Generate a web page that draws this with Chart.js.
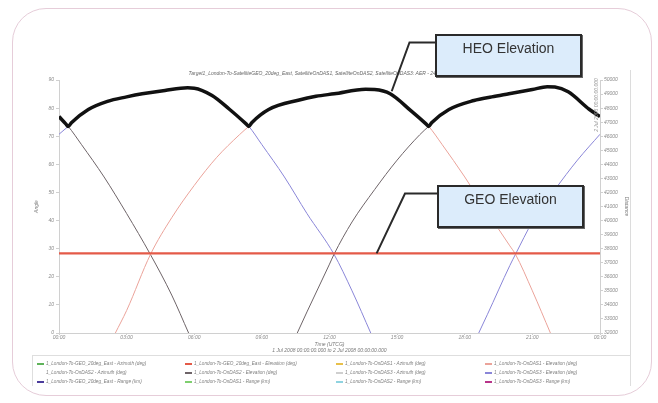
<!DOCTYPE html>
<html>
<head>
<meta charset="utf-8">
<script src="https://cdn.jsdelivr.net/npm/chart.js@4.4.1/dist/chart.umd.min.js"></script>
<style>
  body { margin:0; background:#fff; }
  #wrap { position:relative; width:658px; height:403px; overflow:hidden; font-family:Arial, "Liberation Sans", sans-serif; }
  #frame { position:absolute; left:12px; top:8px; width:638px; height:386px; border:1px solid #e6cdd9; border-radius:34px; }
  #side { position:absolute; left:630px; top:70px; width:1px; height:285px; background:#dcdcdc; }
  canvas { position:absolute; left:0; top:0; }
  #legend { position:absolute; left:32px; top:355px; width:599px; height:31px; box-sizing:border-box;
            border:1px solid #dedede; border-bottom:none; display:grid;
            grid-template-columns:148px 151px 149px auto; grid-auto-rows:9px; padding:3px 0 0 4px;
            font:italic 4.7px Arial, "Liberation Sans", sans-serif; color:#808080; }
  .item { display:flex; align-items:center; white-space:nowrap; }
  .mark { width:7px; height:0; border-top:2px solid; margin-right:2px; flex:none; }
  .callout { position:absolute; width:147px; height:43px; box-sizing:border-box; border:2px solid #2a2a2a;
             background:#dcecfb; box-shadow:1px 1px 0 #666; font:14px Arial, "Liberation Sans", sans-serif;
             color:#333; text-align:center; padding-top:4px; line-height:16px; }
</style>
</head>
<body>
<div id="wrap">
  <div id="frame"></div>
  <canvas id="chart" width="658" height="403"></canvas>
  <div id="side"></div>
  <div id="legend"></div>
  <div class="callout" style="left:435px; top:34px;">HEO Elevation</div>
  <div class="callout" style="left:437px; top:185px;">GEO Elevation</div>
</div>
<script>
// time axis in hours from 1 Jul 2008 00:00 UTCG
const hourLabels = ['00:00','03:00','06:00','09:00','12:00','15:00','18:00','21:00','00:00'];

// GEO satellite elevation (deg)
const geoElTime = [0, 24];
const geoEl = [28.3, 28.3];

// OnDAS1 elevation (pink)
const das1ElTime = [2.5, 3, 4.06, 5, 6, 7, 8, 8.42, 9.3, 10.66, 11.4, 12.21, 13.6, 14.0, 14.69, 15.62, 16.4, 17, 18, 19, 20, 20.25, 21, 21.8];
const das1El = [0, 8, 28, 41, 52.5, 62.5, 70.5, 73.5, 79.5, 82.9, 84.2, 85.1, 86.7, 86.6, 85.1, 79.0, 73.5, 67, 55.5, 43, 31, 28, 15, 0];

// OnDAS2 elevation (grey)
const das2ElTime = [0, 0.41, 1, 2, 3, 4.05, 5, 5.75, 8, 10.57, 11, 12, 12.2, 13, 14, 15, 16, 16.4, 17.3, 18.41, 19.2, 19.96, 21.0, 21.66, 22.0, 22.59, 23.52, 24];
const das2El = [77, 73.5, 67, 55.5, 42.5, 28, 13.5, 0, null, 0, 7.5, 24.5, 28, 39.5, 51, 61.5, 70.5, 73.5, 79.5, 82.7, 84.0, 85.1, 86.6, 87.6, 87.5, 85.8, 79.6, 77];

// OnDAS3 elevation (blue)
const das3ElTime = [0, 0.41, 1.3, 2.15, 3.0, 3.69, 4.7, 5.71, 6.0, 6.79, 7.56, 8.42, 9, 10, 11, 12.2, 13, 13.83, 16, 18.62, 19, 20, 20.25, 21, 22, 23, 24];
const das3El = [70.7, 73.5, 79.5, 82.4, 84.0, 85.1, 86.3, 87.2, 87.1, 84.5, 79.6, 73.5, 67, 55.5, 42.5, 28, 15, 0, null, 0, 6.5, 24, 28, 39.5, 51, 61.5, 70.7];

// highest HEO elevation (thick black)
const heoTime = [0, 0.3, 0.41, 0.55, 1.3, 2.15, 3.0, 3.69, 4.7, 5.71, 6.0, 6.79, 7.56, 8.3, 8.42, 8.55, 9.3, 10.66, 11.4, 12.21, 13.6, 14.0, 14.69, 15.62, 16.28, 16.4, 16.53, 17.3, 18.41, 19.2, 19.96, 21.0, 21.66, 22.0, 22.59, 23.52, 24];
const heoEl = [77, 74.4, 73.5, 74.8, 79.5, 82.4, 84.0, 85.1, 86.3, 87.2, 87.1, 84.5, 79.6, 74.4, 73.5, 74.8, 79.5, 82.9, 84.2, 85.1, 86.7, 86.6, 85.1, 79.0, 74.4, 73.5, 74.8, 79.5, 82.7, 84.0, 85.1, 86.6, 87.6, 87.5, 85.8, 79.6, 77];

// callout tips [hour, deg]
const heoTip = [14.76, 86];
const geoTip = [14.09, 28.3];

function pts(t, v) { return t.map((h, i) => ({x: h, y: v[i]})); }

const small = {size: 5, style: 'italic', family: 'Arial', weight: 'normal'};

function line(label, color, t, v, axis, width, order) {
    return {
        label: label, data: t ? pts(t, v) : [], yAxisID: axis,
        borderColor: color, backgroundColor: color, borderWidth: width,
        pointRadius: 0, cubicInterpolationMode: 'monotone', order: order, fill: false
    };
}

const datasets = [
    line('1_London-To-GEO_20deg_East - Azimuth (deg)', '#5fb35a', null, null, 'y', 1, 3),
    line('1_London-To-GEO_20deg_East - Elevation (deg)', '#e45a48', geoElTime, geoEl, 'y', 2.2, 1),
    line('1_London-To-OnDAS1 - Azimuth (deg)', '#e8c04a', null, null, 'y', 1, 3),
    line('1_London-To-OnDAS1 - Elevation (deg)', '#eba39a', das1ElTime, das1El, 'y', 1, 2),
    line('1_London-To-OnDAS2 - Azimuth (deg)', '#ffffff', null, null, 'y', 1, 3),
    line('1_London-To-OnDAS2 - Elevation (deg)', '#6e6468', das2ElTime, das2El, 'y', 1, 2),
    line('1_London-To-OnDAS3 - Azimuth (deg)', '#cfcfcf', null, null, 'y', 1, 3),
    line('1_London-To-OnDAS3 - Elevation (deg)', '#8a86d8', das3ElTime, das3El, 'y', 1, 2),
    line('1_London-To-GEO_20deg_East - Range (km)', '#4b3c9c', null, null, 'y1', 1, 3),
    line('1_London-To-OnDAS1 - Range (km)', '#7fcf6f', null, null, 'y1', 1, 3),
    line('1_London-To-OnDAS2 - Range (km)', '#8fd3e0', null, null, 'y1', 1, 3),
    line('1_London-To-OnDAS3 - Range (km)', '#b8348a', null, null, 'y1', 1, 3),
    Object.assign(line('', '#111111', heoTime, heoEl, 'y', 3.5, 0), {legend: false})
];
// keep legend info before Chart.js wraps the datasets
const legendItems = datasets.filter(d => d.legend !== false).map(d => [d.label, d.borderColor]);

// leader lines + rotated end date
const extras = {
    id: 'extras',
    afterDraw(chart) {
        const c = chart.ctx, x = chart.scales.x, y = chart.scales.y;
        c.save();
        c.strokeStyle = '#2a2a2a';
        c.lineWidth = 2;
        c.beginPath();
        c.moveTo(435, 42.5); c.lineTo(409.5, 42.5);
        c.lineTo(x.getPixelForValue(heoTip[0]), y.getPixelForValue(heoTip[1]));
        c.moveTo(437, 193.5); c.lineTo(405, 193.5);
        c.lineTo(x.getPixelForValue(geoTip[0]), y.getPixelForValue(geoTip[1]));
        c.stroke();
        c.translate(x.right - 3, chart.chartArea.top + 25);
        c.rotate(-Math.PI / 2);
        c.font = 'italic 5px Arial';
        c.fillStyle = '#999';
        c.textAlign = 'center';
        c.textBaseline = 'middle';
        c.fillText('2 Jul 2008 00:00:00.000', 0, 0);
        c.restore();
    }
};

const chart = new Chart(document.getElementById('chart'), {
    type: 'line',
    data: {datasets: datasets},
    options: {
        responsive: false,
        animation: false,
        devicePixelRatio: 1,
        layout: {padding: {left: 30, right: 28, top: 71, bottom: 49}},
        plugins: {
            legend: {display: false},
            tooltip: {enabled: false},
            title: {
                display: true,
                text: 'Target1_London-To-SatelliteGEO_20deg_East, SatelliteOnDAS1, SatelliteOnDAS2, SatelliteOnDAS3: AER - 24 Jun 2008 11:32',
                font: small, color: '#666', padding: {top: 0, bottom: 3}
            }
        },
        scales: {
            x: {
                type: 'linear', min: 0, max: 24,
                ticks: {stepSize: 3, font: small, color: '#8a8a8a', padding: 0, maxRotation: 0,
                        callback: (v, i) => hourLabels[i]},
                grid: {drawOnChartArea: false, tickLength: 2, color: '#d0d0d0'},
                border: {color: '#d0d0d0'},
                title: {display: true, text: ['Time (UTCG)', '1 Jul 2008 00:00:00.000 to 2 Jul 2008 00:00:00.000'],
                        font: small, color: '#777', padding: 0},
                afterFit: s => { s.height = 21; }
            },
            y: {
                position: 'left', min: 0, max: 90,
                ticks: {stepSize: 10, font: small, color: '#8a8a8a', padding: 2},
                grid: {drawOnChartArea: false, tickLength: 3, color: '#d0d0d0'},
                border: {color: '#d0d0d0'},
                title: {display: true, text: 'Angle', font: small, color: '#777', padding: {top: 4, bottom: 0}},
                afterFit: s => { s.width = 29; }
            },
            y1: {
                position: 'right', min: 32000, max: 50000,
                ticks: {stepSize: 1000, font: small, color: '#8a8a8a', padding: 1, callback: v => String(v)},
                grid: {drawOnChartArea: false, tickLength: 3, color: '#d0d0d0'},
                border: {color: '#d0d0d0'},
                title: {display: true, text: 'Distance', font: small, color: '#777', padding: {top: 1, bottom: 0}},
                afterFit: s => { s.width = 30; }
            }
        }
    },
    plugins: [extras]
});

// legend in a grid, built from the dataset labels and colours
const lg = document.getElementById('legend');
legendItems.forEach(([label, color]) => {
    lg.innerHTML += `<div class="item"><span class="mark" style="border-top-color:${color}"></span>${label}</div>`;
});
</script>
</body>
</html>
